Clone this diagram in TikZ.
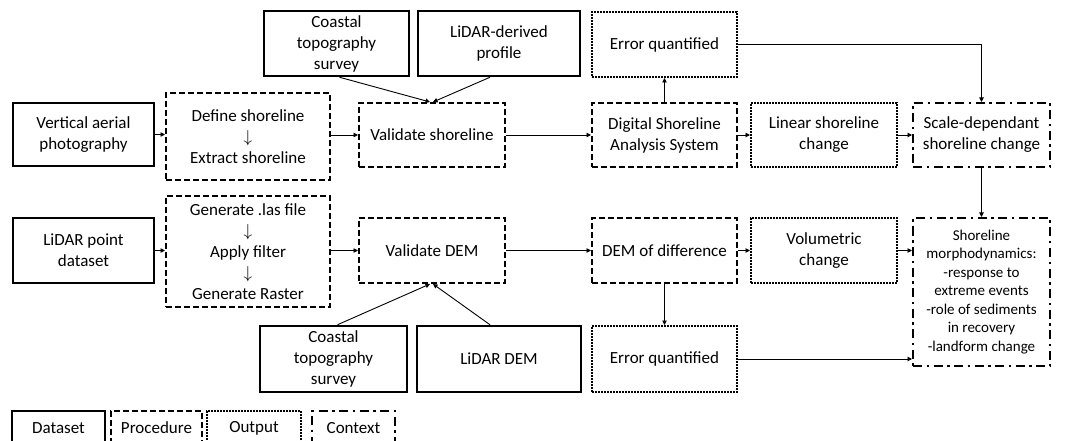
\documentclass[tikz,border=0pt]{standalone}
\usepackage{fontspec}
\setmainfont{Carlito}
\usetikzlibrary{arrows.meta}
\tikzset{
  box/.style={draw, align=center, inner sep=2pt, font=\fontsize{17}{21}\selectfont},
  datasetbox/.style={box, line width=2.5pt},
  procbox/.style={box, line width=2pt, dash pattern=on 6pt off 3pt},
  outbox/.style={box, line width=2pt, dash pattern=on 1.6pt off 1.4pt},
  contextbox/.style={box, line width=2pt, dash pattern=on 9pt off 4.5pt on 2.5pt off 4.5pt},
  flow/.style={line width=0.9pt, -{Triangle[length=4.5pt,width=4.5pt]}}
}
\begin{document}
\begin{tikzpicture}[x=1pt,y=-1pt]
    \useasboundingbox (0,0) rectangle (1072,441);
    % top row: shoreline
    \node[datasetbox, minimum width=141, minimum height=63] (aerial) at (83.5,134.5) {Vertical aerial\\photography};
    \node[procbox, minimum width=164, minimum height=87] (defsh) at (248,136.5) {Define shoreline\\$\downarrow$\\Extract shoreline};
    \node[datasetbox, minimum width=145, minimum height=65] (coasttop) at (336.5,43.5) {Coastal\\topography\\survey};
    \node[datasetbox, minimum width=162, minimum height=65] (lidprof) at (499,43.5) {LiDAR-derived\\profile};
    \node[procbox, minimum width=146, minimum height=64] (valsh) at (432,135) {Validate shoreline};
    \node[outbox, minimum width=145, minimum height=65] (errtop) at (664.5,44.5) {Error quantified};
    \node[procbox, minimum width=145, minimum height=64] (dsas) at (664.5,135) {Digital Shoreline\\Analysis System};
    \node[outbox, minimum width=146, minimum height=64] (linear) at (824,135) {Linear shoreline\\change};
    \node[contextbox, minimum width=137, minimum height=64] (scale) at (981.5,135) {Scale-dependant\\shoreline change};
    % bottom row: DEM
    \node[datasetbox, minimum width=141, minimum height=65] (lidpt) at (83.5,250.5) {LiDAR point\\dataset};
    \node[procbox, minimum width=164, minimum height=111] (genlas) at (248,251.5) {Generate .las file\\$\downarrow$\\Apply filter\\$\downarrow$\\Generate Raster};
    \node[procbox, minimum width=146, minimum height=65] (valdem) at (432,250.5) {Validate DEM};
    \node[datasetbox, minimum width=147, minimum height=66] (coastbot) at (333.5,359) {Coastal\\topography\\survey};
    \node[datasetbox, minimum width=164, minimum height=66] (liddem) at (499,359) {LiDAR DEM};
    \node[procbox, minimum width=145, minimum height=65] (demdiff) at (664.5,250.5) {DEM of difference};
    \node[outbox, minimum width=146, minimum height=65] (vol) at (824,250.5) {Volumetric\\change};
    \node[outbox, minimum width=145, minimum height=66] (errbot) at (664.5,359) {Error quantified};
    \node[contextbox, minimum width=137, minimum height=148, font=\fontsize{15}{18.5}\selectfont] (morph) at (981.5,292)
        {Shoreline\\morphodynamics:\\-response to\\extreme events\\-role of sediments\\in recovery\\-landform change};
    % legend
    \node[datasetbox, minimum width=93, minimum height=34] (legdata) at (58.5,428) {Dataset};
    \node[procbox, minimum width=91, minimum height=34] (legproc) at (156.5,428) {Procedure};
    \node[outbox, minimum width=94, minimum height=34] (legout) at (254,428) {Output};
    \node[contextbox, minimum width=83, minimum height=34] (legctx) at (353.5,428) {Context};
    % connectors
    \draw[flow] (aerial.east) -- (aerial.east -| defsh.west);
    \draw[flow] (defsh.east |- valsh.west) -- (valsh.west);
    \draw[flow] ([xshift=3pt]coasttop.south) -- ([xshift=-2pt]valsh.north);
    \draw[flow] ([xshift=-9pt]lidprof.south) -- ([xshift=1pt]valsh.north);
    \draw[flow] (valsh.east) -- (dsas.west);
    \draw[flow] (dsas.north) -- (errtop.south);
    \draw[flow] (dsas.east) -- (linear.west);
    \draw[flow] (linear.east) -- (scale.west);
    \draw[flow] (errtop.east) -| (scale.north);
    \draw[flow] (scale.south) -- (morph.north);
    \draw[flow] (lidpt.east) -- (lidpt.east -| genlas.west);
    \draw[flow] (genlas.east |- valdem.west) -- (valdem.west);
    \draw[flow] ([xshift=4pt]coastbot.north) -- ([xshift=-2pt]valdem.south);
    \draw[flow] ([xshift=-9pt]liddem.north) -- ([xshift=1pt]valdem.south);
    \draw[flow] (valdem.east) -- (demdiff.west);
    \draw[flow] (demdiff.east) -- (vol.west);
    \draw[flow] (vol.east) -- (vol.east -| morph.west);
    \draw[flow] (demdiff.south) -- (errbot.north);
    \draw[flow] (errbot.east) -- (errbot.east -| morph.west);
\end{tikzpicture}
\end{document}
